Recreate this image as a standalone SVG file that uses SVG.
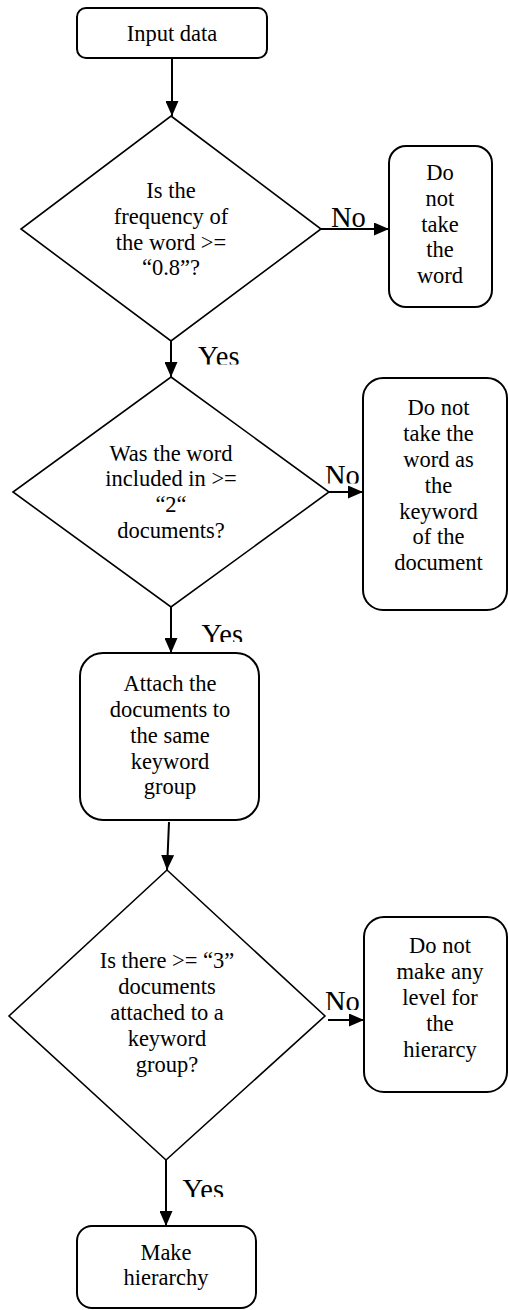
<svg xmlns="http://www.w3.org/2000/svg" width="508" height="1310" viewBox="0 0 508 1310">
<style>
.box{fill:#fff;stroke:#000;stroke-width:2}
.dia{fill:#fff;stroke:#000;stroke-width:1.6}
.t{font-family:"Liberation Serif","Times New Roman",serif;font-size:22.5px;fill:#000;text-anchor:middle}
.lbl{font-family:"Liberation Serif","Times New Roman",serif;font-size:28.5px;fill:#000}
.con{fill:none;stroke:#000;stroke-width:2;marker-end:url(#ah)}
</style>
<defs>
<marker id="ah" markerUnits="userSpaceOnUse" markerWidth="15" markerHeight="13" refX="15" refY="6.5" orient="auto">
<path d="M0,0 L15,6.5 L0,13 z" fill="#000"/>
</marker>
<clipPath id="cNo1"><rect x="320" y="190" width="60" height="37"/></clipPath>
<clipPath id="cNo2"><rect x="320" y="450" width="45" height="33.5"/></clipPath>
<clipPath id="cNo3"><rect x="320" y="975" width="45" height="35"/></clipPath>
<clipPath id="cY1"><rect x="190" y="330" width="70" height="34.5"/></clipPath>
<clipPath id="cY2"><rect x="190" y="610" width="70" height="32"/></clipPath>
<clipPath id="cY3"><rect x="175" y="1165" width="70" height="32"/></clipPath>
</defs>
<rect width="508" height="1310" fill="#fff"/>

<g id="connectors">
<path class="con" d="M172,58 L172,116"/>
<path class="con" d="M321,229 L389,229"/>
<path class="con" d="M171,341 L171,377"/>
<path class="con" d="M329,492 L363,492"/>
<path class="con" d="M171,607 L171,653"/>
<path class="con" d="M169,822 L167,870"/>
<path class="con" d="M328,1020 L364,1020"/>
<path class="con" d="M166,1160 L166,1226"/>
<g clip-path="url(#cNo1)"><text class="lbl" x="331" y="227">No</text></g>
<g clip-path="url(#cNo2)"><text class="lbl" x="325" y="484.5">No</text></g>
<g clip-path="url(#cNo3)"><text class="lbl" x="325" y="1011">No</text></g>
<g clip-path="url(#cY1)"><text class="lbl" x="198" y="365.5">Yes</text></g>
<g clip-path="url(#cY2)"><text class="lbl" x="201.5" y="643.5">Yes</text></g>
<g clip-path="url(#cY3)"><text class="lbl" x="182.5" y="1198.5">Yes</text></g>
</g>

<g id="input">
<rect class="box" x="77" y="8" width="190" height="50" rx="9"/>
<text class="t" x="172" y="41">Input data</text>
</g>

<g id="dec1">
<polygon class="dia" points="171,116 321,229 171,341 21,229"/>
<text class="t" x="171" y="198">Is the</text>
<text class="t" x="171" y="223.5">frequency of</text>
<text class="t" x="171" y="249.5">the word &gt;=</text>
<text class="t" x="171" y="275">“0.8”?</text>
</g>

<g id="no1">
<rect class="box" x="389" y="146" width="103" height="161" rx="17"/>
<text class="t" x="440" y="180">Do</text>
<text class="t" x="440" y="205.5">not</text>
<text class="t" x="440" y="231.5">take</text>
<text class="t" x="440" y="257">the</text>
<text class="t" x="440" y="283">word</text>
</g>

<g id="dec2">
<polygon class="dia" points="171,377 329,492 171,607 13,492"/>
<text class="t" x="171" y="460.5">Was the word</text>
<text class="t" x="171" y="486">included in &gt;=</text>
<text class="t" x="171" y="512">“2“</text>
<text class="t" x="171" y="538">documents?</text>
</g>

<g id="no2">
<rect class="box" x="363" y="378" width="144" height="232" rx="20"/>
<text class="t" x="438.5" y="415">Do not</text>
<text class="t" x="438.5" y="441">take the</text>
<text class="t" x="438.5" y="466.5">word as</text>
<text class="t" x="438.5" y="492.5">the</text>
<text class="t" x="438.5" y="518.5">keyword</text>
<text class="t" x="438.5" y="544">of the</text>
<text class="t" x="438.5" y="570">document</text>
</g>

<g id="attach">
<rect class="box" x="80" y="653" width="179" height="167" rx="23"/>
<text class="t" x="170" y="690.5">Attach the</text>
<text class="t" x="170" y="716.5">documents to</text>
<text class="t" x="170" y="742.5">the same</text>
<text class="t" x="170" y="768.5">keyword</text>
<text class="t" x="170" y="794">group</text>
</g>

<g id="dec3">
<polygon class="dia" points="167,870 325,1016 166,1160 9,1016"/>
<text class="t" x="167" y="968">Is there &gt;= “3”</text>
<text class="t" x="167" y="993.5">documents</text>
<text class="t" x="167" y="1019.5">attached to a</text>
<text class="t" x="167" y="1045.5">keyword</text>
<text class="t" x="167" y="1071.5">group?</text>
</g>

<g id="no3">
<rect class="box" x="364" y="917" width="143" height="175" rx="20"/>
<text class="t" x="440" y="953">Do not</text>
<text class="t" x="440" y="979">make any</text>
<text class="t" x="440" y="1005">level for</text>
<text class="t" x="440" y="1030.5">the</text>
<text class="t" x="440" y="1056.5">hierarcy</text>
</g>

<g id="make">
<rect class="box" x="77" y="1226" width="179" height="82" rx="15"/>
<text class="t" x="166" y="1259.5">Make</text>
<text class="t" x="166" y="1285">hierarchy</text>
</g>
</svg>
